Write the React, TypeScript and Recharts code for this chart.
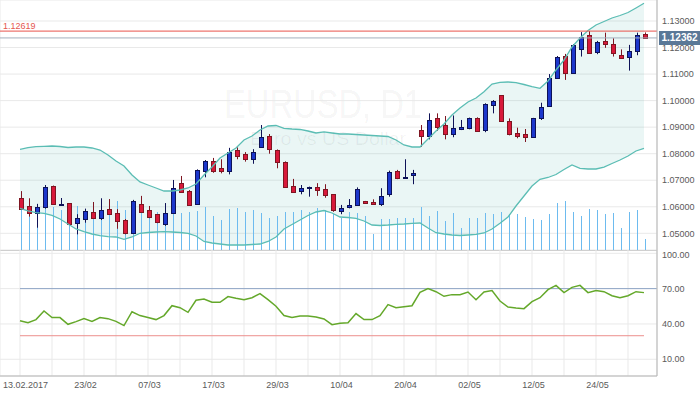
import React from 'react';
import { ComposedChart, Bar, Line, Area, XAxis, YAxis, CartesianGrid, ReferenceLine } from 'recharts';

// EURUSD D1, 13.02.2017 .. 01.06.2017 (one entry per trading day)
const open = [
  1.0632, 1.0603, 1.0575, 1.0600, 1.0678, 1.0607, 1.0613, 1.0538, 1.0555, 1.0579,
  1.0559, 1.0591, 1.0577, 1.0550, 1.0500, 1.0609, 1.0588, 1.0572, 1.0534, 1.0575,
  1.0689, 1.0659, 1.0609, 1.0736, 1.0774, 1.0745, 1.0736, 1.0814, 1.0798, 1.0781,
  1.0826, 1.0867, 1.0814, 1.0769, 1.0678, 1.0661, 1.0670, 1.0674, 1.0666, 1.0647,
  1.0585, 1.0598, 1.0607, 1.0622, 1.0618, 1.0609, 1.0648, 1.0736, 1.0710, 1.0719,
  1.0889, 1.0868, 1.0933, 1.0908, 1.0874, 1.0892, 1.0898, 1.0933, 1.0889, 1.0982,
  1.1020, 1.0922, 1.0877, 1.0873, 1.0862, 1.0933, 1.0979, 1.1084, 1.1168, 1.1103,
  1.1196, 1.1247, 1.1184, 1.1225, 1.1212, 1.1172, 1.1166, 1.1188, 1.1252,
];
const high = [
  1.0659, 1.0632, 1.0611, 1.0682, 1.0680, 1.0633, 1.0614, 1.0572, 1.0593, 1.0618,
  1.0632, 1.0629, 1.0591, 1.0554, 1.0626, 1.0641, 1.0603, 1.0573, 1.0614, 1.0701,
  1.0716, 1.0663, 1.0741, 1.0776, 1.0784, 1.0779, 1.0822, 1.0824, 1.0806, 1.0817,
  1.0908, 1.0874, 1.0816, 1.0771, 1.0705, 1.0682, 1.0676, 1.0689, 1.0685, 1.0648,
  1.0607, 1.0629, 1.0673, 1.0622, 1.0628, 1.0670, 1.0736, 1.0739, 1.0779, 1.0739,
  1.0908, 1.0952, 1.0952, 1.0942, 1.0944, 1.0927, 1.0936, 1.0937, 1.0990, 1.1002,
  1.1021, 1.0933, 1.0898, 1.0893, 1.0935, 1.0992, 1.1100, 1.1168, 1.1176, 1.1213,
  1.1258, 1.12619, 1.1225, 1.1256, 1.1235, 1.1193, 1.1210, 1.1256, 1.1257,
];
const low = [
  1.0588, 1.0563, 1.0521, 1.0593, 1.0607, 1.0605, 1.0531, 1.0496, 1.0540, 1.0556,
  1.0550, 1.0570, 1.0517, 1.0496, 1.0499, 1.0579, 1.0557, 1.0538, 1.0528, 1.0574,
  1.0654, 1.0605, 1.0608, 1.0711, 1.0728, 1.0726, 1.0722, 1.0779, 1.0770, 1.0762,
  1.0825, 1.0800, 1.0745, 1.0672, 1.0655, 1.0647, 1.0638, 1.0641, 1.0634, 1.0581,
  1.0572, 1.0594, 1.0603, 1.0613, 1.0609, 1.0603, 1.0638, 1.0704, 1.0709, 1.0685,
  1.0826, 1.0854, 1.0886, 1.0854, 1.0862, 1.0889, 1.0892, 1.0883, 1.0881, 1.0952,
  1.0921, 1.0869, 1.0858, 1.0844, 1.0861, 1.0927, 1.0978, 1.1083, 1.1078, 1.1102,
  1.1166, 1.1180, 1.1175, 1.1199, 1.1166, 1.1160, 1.1113, 1.1171, 1.1233,
];
const close = [
  1.0593, 1.0578, 1.0598, 1.0673, 1.0609, 1.0611, 1.0534, 1.0557, 1.0583, 1.0557,
  1.0587, 1.0574, 1.0545, 1.0502, 1.0622, 1.0581, 1.0563, 1.0542, 1.0575, 1.0670,
  1.0655, 1.0606, 1.0739, 1.0773, 1.0736, 1.0736, 1.0805, 1.0793, 1.0781, 1.0805,
  1.0863, 1.0817, 1.0768, 1.0673, 1.0657, 1.0671, 1.0674, 1.0662, 1.0644, 1.0588,
  1.0594, 1.0607, 1.0666, 1.0613, 1.0609, 1.0642, 1.0730, 1.0710, 1.0714, 1.0728,
  1.0868, 1.0927, 1.0902, 1.0873, 1.0898, 1.0900, 1.0933, 1.0886, 1.0986, 1.0999,
  1.0922, 1.0873, 1.0868, 1.0862, 1.0933, 1.0975, 1.1084, 1.1163, 1.1103, 1.1210,
  1.1239, 1.1181, 1.1221, 1.1212, 1.1178, 1.1162, 1.1187, 1.1247, 1.12362,
];
// tick volume (relative)
const volume = [
  46, 42, 44, 47, 43, 40, 38, 44, 41, 36,
  38, 45, 49, 40, 42, 44, 36, 38, 43, 42,
  37, 38, 39, 43, 34, 30, 41, 42, 38, 40,
  37, 32, 34, 38, 38, 40, 38, 42, 40, 36,
  32, 38, 37, 34, 16, 31, 31, 32, 32, 32,
  43, 34, 39, 29, 37, 22, 32, 32, 37, 36,
  38, 36, 36, 33, 31, 30, 36, 47, 49, 38,
  34, 41, 40, 36, 37, 22, 38, 40, 11,
];
const bbUpper = [
  1.08166, 1.08226, 1.08264, 1.08279, 1.0829, 1.08271, 1.08234, 1.08252, 1.08252, 1.08215,
  1.08139, 1.07951, 1.07725, 1.07536, 1.07197, 1.06934, 1.0682, 1.06707, 1.06594, 1.06594,
  1.06632, 1.06707, 1.06858, 1.07197, 1.07499, 1.07838, 1.08026, 1.08215, 1.08516, 1.08667,
  1.08893, 1.09044, 1.09062, 1.08957, 1.08931, 1.08912, 1.08855, 1.0878, 1.08818, 1.0878,
  1.08742, 1.08742, 1.08723, 1.08704, 1.08686, 1.08667, 1.08648, 1.08516, 1.08328, 1.08252,
  1.08252, 1.08554, 1.08855, 1.0912, 1.09458, 1.09722, 1.09948, 1.10099, 1.10336, 1.10626,
  1.1069, 1.10702, 1.10675, 1.10607, 1.10524, 1.10464, 1.10739, 1.11154, 1.1153, 1.1202,
  1.12359, 1.12642, 1.12849, 1.12981, 1.13113, 1.13207, 1.1332, 1.1349, 1.13667,
];
const bbLower = [
  1.05943, 1.05841, 1.05777, 1.05754, 1.05679, 1.05539, 1.05351, 1.05163, 1.05061, 1.04974,
  1.0491, 1.04873, 1.04861, 1.04774, 1.04861, 1.05001, 1.05031, 1.0505, 1.05061, 1.0505,
  1.05031, 1.05001, 1.04899, 1.04692, 1.04635, 1.04597, 1.0456, 1.0456, 1.0456, 1.04578,
  1.04597, 1.04692, 1.04861, 1.05163, 1.05332, 1.05502, 1.05671, 1.05803, 1.05859, 1.05765,
  1.05615, 1.05596, 1.05566, 1.05464, 1.05313, 1.05294, 1.05313, 1.0534, 1.05351, 1.05377,
  1.05389, 1.052, 1.05023, 1.04974, 1.04937, 1.04918, 1.04937, 1.04956, 1.05012, 1.05163,
  1.05377, 1.05615, 1.06029, 1.06406, 1.06783, 1.07035, 1.07103, 1.07216, 1.07405, 1.07574,
  1.07448, 1.07423, 1.07423, 1.07498, 1.0763, 1.07762, 1.07913, 1.08102, 1.08203,
];
const rsi = [
  42.8, 41.1, 43.7, 51.0, 45.4, 45.4, 39.7, 42.0, 44.5, 42.2,
  45.4, 44.5, 42.2, 38.6, 50.4, 47.1, 45.4, 43.7, 47.1, 55.5,
  53.8, 49.9, 60.1, 61.2, 58.4, 58.4, 63.2, 61.8, 60.6, 62.3,
  65.7, 60.6, 55.0, 47.1, 45.4, 46.8, 46.8, 45.9, 44.2, 39.4,
  40.5, 41.1, 48.8, 43.7, 43.7, 47.1, 56.4, 53.8, 54.7, 55.5,
  66.9, 70.0, 67.4, 63.5, 64.9, 64.9, 67.1, 60.6, 67.1, 68.3,
  59.5, 54.4, 53.6, 53.0, 58.9, 62.3, 69.1, 72.8, 66.6, 71.1,
  72.8, 66.6, 68.3, 67.4, 64.0, 62.3, 64.0, 67.4, 66.6,
];

const dateTickIdx = [0, 8, 16, 24, 32, 40, 48, 56, 64, 72];
const dateLabels = ['13.02.2017', '23/02', '07/03', '17/03', '29/03', '10/04', '20/04', '02/05', '12/05', '24/05'];
const gridIdx = [0, 4, 8, 12, 16, 20, 24, 28, 32, 36, 40, 44, 48, 52, 56, 60, 64, 68, 72, 76];
const priceTicks = [1.05, 1.06, 1.07, 1.08, 1.09, 1.1, 1.11, 1.12, 1.13];
const rsiTicks = [10, 40, 70, 100];
const periodHigh = 1.12619;
const lastPrice = 1.12362;

const data = open.map((o, i) => ({
  i,
  open: o,
  high: high[i],
  low: low[i],
  close: close[i],
  range: [low[i], high[i]],
  vol: volume[i],
  band: [bbLower[i], bbUpper[i]],
  upper: bbUpper[i],
  lower: bbLower[i],
  rsi: rsi[i],
}));

const X_DOMAIN: [number, number] = [-2.5, 79.625];
const FONT = '"Liberation Sans", Arial, sans-serif';
const AXIS = '#b4b4b4';
const GRID = '#e9e9e9';
const TEXT = '#5a5a5a';
const VOL = '#6dbbef';

const BULL = '#1c37cc';
const BULL_EDGE = '#0e1257';
const BEAR = '#d8193a';
const BEAR_EDGE = '#7e1622';

function Candle(props: any) {
  const { x, y, width, height, payload } = props;
  if (!payload || height == null) return null;
  const { open: o, close: c, high: h, low: l } = payload;
  const k = height / (h - l);
  const cx = Math.round(x + width / 2);
  const yo = y + (h - o) * k;
  const yc = y + (h - c) * k;
  const top = Math.round(Math.min(yo, yc));
  const bot = Math.round(Math.max(yo, yc));
  const up = c >= o;
  const edge = up ? BULL_EDGE : BEAR_EDGE;
  return (
    <g>
      <line x1={cx + 0.5} x2={cx + 0.5} y1={y} y2={y + height} stroke={edge} strokeWidth={1} />
      <rect
        x={cx - 1.5}
        y={top + 0.5}
        width={4}
        height={Math.max(bot - top, 1)}
        fill={up ? BULL : BEAR}
        stroke={edge}
        strokeWidth={1}
      />
    </g>
  );
}

function VolBar(props: any) {
  const { x, y, width, height } = props;
  if (height == null) return null;
  const cx = Math.round(x + width / 2);
  return <rect x={cx} y={Math.round(y)} width={1} height={Math.round(height)} fill={VOL} />;
}

function HighTag(props: any) {
  const vb = props.viewBox;
  if (!vb) return null;
  return (
    <text x={vb.x + 3} y={vb.y - 2} fontSize={9} fill="#e5564f">
      {periodHigh.toFixed(5)}
    </text>
  );
}

function PriceTag(props: any) {
  const vb = props.viewBox;
  if (!vb) return null;
  const right = vb.x + vb.width;
  return (
    <g>
      <rect x={right + 2} y={Math.round(vb.y) - 7} width={41} height={14} fill="#5a7897" />
      <text x={right + 22.5} y={vb.y + 3.5} fontSize={10} fontWeight="bold" fill="#ffffff" textAnchor="middle">
        {lastPrice.toFixed(5)}
      </text>
    </g>
  );
}

function DateTick(props: any) {
  const { x, y, payload } = props;
  const k = dateTickIdx.indexOf(payload.value);
  if (k < 0) return null;
  const first = k === 0;
  return (
    <text x={first ? 3 : x + 1.5} y={y} dy="0.71em" fontSize={9} fill={TEXT} textAnchor={first ? 'start' : 'middle'}>
      {dateLabels[k]}
    </text>
  );
}

export default function App() {
  return (
    <div style={{ position: 'absolute', left: 0, top: 0, width: 700, height: 394, background: '#fff', fontFamily: FONT }}>
      {/* watermark */}
      <svg width={657} height={250} style={{ position: 'absolute', left: 0, top: 0 }}>
        <text x={224} y={118} fontSize={40} fill="rgba(0,0,0,0.055)" textLength={198} lengthAdjust="spacingAndGlyphs">
          EURUSD, D1
        </text>
        <text x={250} y={145} fontSize={19} fill="rgba(0,0,0,0.06)" textLength={156} lengthAdjust="spacingAndGlyphs">
          Euro vs US Dollar
        </text>
      </svg>

      <div style={{ position: 'absolute', left: 0, top: 0 }}>
        <ComposedChart width={700} height={250} data={data} margin={{ top: 0, right: 0, bottom: 0, left: 0 }}>
          <CartesianGrid stroke={GRID} />
          <XAxis
            dataKey="i"
            type="number"
            domain={X_DOMAIN}
            ticks={gridIdx}
            tick={false}
            tickLine={false}
            axisLine={false}
            height={0}
            allowDataOverflow
          />
          <XAxis xAxisId="v" dataKey="i" type="number" domain={X_DOMAIN} hide allowDataOverflow />
          <YAxis
            orientation="right"
            width={43}
            domain={[1.04371, 1.13791]}
            ticks={priceTicks}
            allowDataOverflow
            tickFormatter={(v: number) => v.toFixed(5)}
            tick={{ fontSize: 9, fill: TEXT }}
            tickLine={false}
            tickSize={3}
            tickMargin={2}
            axisLine={{ stroke: AXIS }}
          />
          <YAxis yAxisId="v" hide domain={[0, 250]} />
          <Area
            dataKey="band"
            stroke="none"
            fill="#54b5ad"
            fillOpacity={0.12}
            dot={false}
            activeDot={false}
            isAnimationActive={false}
          />
          <Bar
            xAxisId="v"
            yAxisId="v"
            dataKey="vol"
            barSize={1}
            fill={VOL}
            shape={<VolBar />}
            isAnimationActive={false}
          />
          <Line dataKey="upper" stroke="#5bbdb4" strokeWidth={1.3} dot={false} activeDot={false} isAnimationActive={false} />
          <Line dataKey="lower" stroke="#5bbdb4" strokeWidth={1.3} dot={false} activeDot={false} isAnimationActive={false} />
          <ReferenceLine y={periodHigh} stroke="#e8534c" strokeWidth={1} label={<HighTag />} />
          <ReferenceLine y={lastPrice} stroke="#a4afbd" strokeWidth={1} label={<PriceTag />} />
          <Bar dataKey="range" barSize={5} shape={<Candle />} isAnimationActive={false} />
        </ComposedChart>
      </div>

      <div style={{ position: 'absolute', left: 0, top: 250, width: 657, height: 1, background: AXIS }} />

      <div style={{ position: 'absolute', left: 0, top: 250 }}>
        <ComposedChart width={700} height={144} data={data} margin={{ top: 0, right: 0, bottom: 0, left: 0 }}>
          <CartesianGrid stroke={GRID} />
          <XAxis
            dataKey="i"
            type="number"
            domain={X_DOMAIN}
            ticks={gridIdx}
            interval={0}
            height={18}
            tickLine={false}
            tickMargin={0}
            axisLine={{ stroke: AXIS }}
            tick={<DateTick />}
            allowDataOverflow
          />
          <YAxis
            orientation="right"
            width={43}
            domain={[-4.2, 102.8]}
            ticks={rsiTicks}
            allowDataOverflow
            tickFormatter={(v: number) => v.toFixed(2)}
            tick={{ fontSize: 9, fill: TEXT }}
            tickLine={false}
            tickSize={3}
            tickMargin={2}
            axisLine={{ stroke: AXIS }}
          />
          <ReferenceLine segment={[{ x: 0, y: 70 }, { x: 79.6, y: 70 }]} stroke="#8fa6c6" strokeWidth={1} />
          <ReferenceLine segment={[{ x: 0, y: 30 }, { x: 78, y: 30 }]} stroke="#ec8f8c" strokeWidth={1} />
          <Line dataKey="rsi" stroke="#64a82a" strokeWidth={1.5} dot={false} activeDot={false} isAnimationActive={false} />
        </ComposedChart>
      </div>
    </div>
  );
}
